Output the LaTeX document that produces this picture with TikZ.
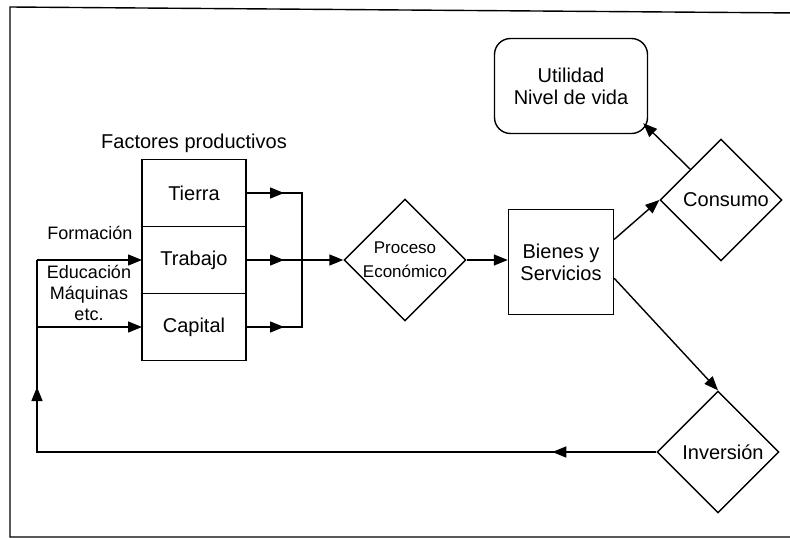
\documentclass[tikz,border=0pt]{standalone}
\usepackage{fontspec}
\setmainfont{Liberation Sans}
\usetikzlibrary{arrows.meta,positioning,shapes.geometric}

\begin{document}
\begin{tikzpicture}[x=1pt,y=-1pt,line width=1.4pt,
	font=\fontsize{20}{22}\selectfont,
	factor/.style={rectangle,draw,outer sep=0pt,minimum width=104pt,minimum height=67pt},
	rombo/.style={diamond,draw,minimum width=122pt,minimum height=122pt,inner sep=0pt},
	flecha/.style={-{Triangle[length=14pt,width=11pt]}}]
\useasboundingbox (0,0) rectangle (790,538);
\draw (800,13) -- (10,7) -- (10,537) -- (800,537);
\coordinate (bus) at (302,0);
\coordinate (fb) at (37,0);
\node [factor] (tierra) at (194,193) {Tierra};
\node [factor,below=0pt of tierra] (trabajo) {Trabajo};
\node [factor,below=0pt of trabajo] (capital) {Capital};
\node [above=3pt of tierra] (factores) {Factores productivos};
\node [font=\fontsize{18}{21}\selectfont] (formacion) at (90,233) {Formación};
\node [font=\fontsize{18}{21}\selectfont,align=center] (educacion) at (89,293) {Educación\\Máquinas\\etc.};
\node [rombo,label={[align=center,font=\fontsize{17}{24}\selectfont]center:Proceso\\Económico}] (proceso) at (405,260) {};
\node [rectangle,draw,minimum width=105pt,minimum height=105pt,align=center] (bienes) at (561,262) {Bienes y\\Servicios};
\node [rombo,label={[xshift=5pt]center:Consumo}] (consumo) at (721,200) {};
\node [rombo,label={[xshift=5pt]center:Inversión}] (inversion) at (718,452) {};
\node [rectangle,draw,rounded corners=16pt,minimum width=153pt,minimum height=95pt,align=center] (utilidad) at (571,86) {Utilidad\\Nivel de vida};
\draw (tierra.east) -- (tierra.east -| bus) -- (capital.east -| bus) -- (capital.east);
\draw [flecha] (tierra.east) -- ++(38,0);
\draw [flecha] (trabajo.east) -- ++(38,0);
\draw [flecha] (capital.east) -- ++(38,0);
\draw [flecha] (trabajo.east) -- (proceso.west);
\draw [flecha] (proceso.east) -- (proceso.east -| bienes.west);
\draw [flecha] (bienes.23) -- (consumo.west);
\draw [flecha] (consumo.north west) -- ([shift={(-5,-11)}]utilidad.south east);
\draw [flecha] (bienes.-17) -- (inversion.north);
\draw (inversion.west) -- (inversion.west -| fb) -- (trabajo.west -| fb);
\draw [flecha] (inversion.west) -- ++(-104,0);
\draw [flecha] (inversion.west -| fb) -- ++(0,-65);
\draw [flecha] (trabajo.west -| fb) -- (trabajo.west);
\draw [flecha] (capital.west -| fb) -- (capital.west);
\end{tikzpicture}
\end{document}
